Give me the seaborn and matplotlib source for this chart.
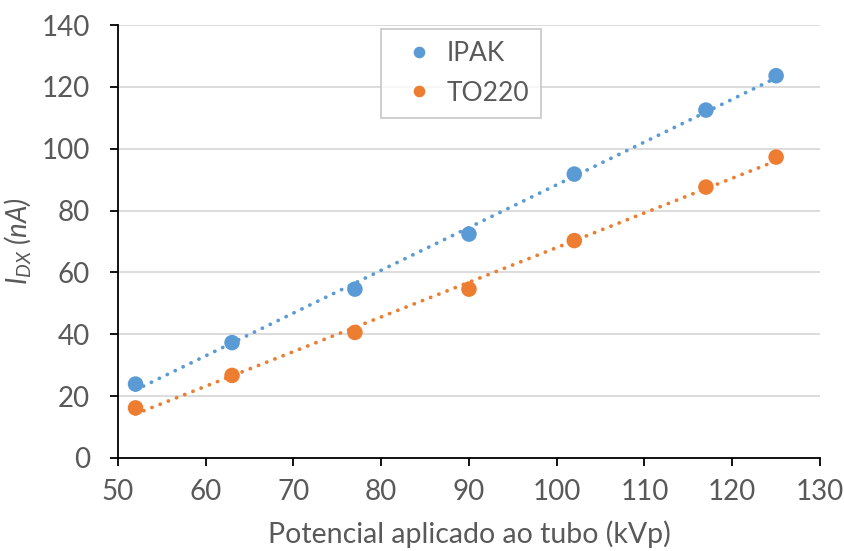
import numpy as np
import pandas as pd
import matplotlib
matplotlib.use("Agg")
import matplotlib.pyplot as plt
import seaborn as sns

kvp = [52, 63, 77, 90, 102, 117, 125]
ipak = [23.9, 37.3, 54.6, 72.4, 91.8, 112.5, 123.6]
to220 = [16.2, 26.7, 40.6, 54.6, 70.3, 87.6, 97.3]
series_names = ["IPAK", "TO220"]
colors = ["#5B9BD5", "#ED7D31"]
xticks = [50, 60, 70, 80, 90, 100, 110, 120, 130]
yticks = [0, 20, 40, 60, 80, 100, 120, 140]

sns.set_theme(style="white")
plt.rcParams["font.family"] = ["Lato", "DejaVu Sans"]
plt.rcParams["mathtext.fontset"] = "custom"
plt.rcParams["mathtext.it"] = "Lato:italic"
plt.rcParams["mathtext.rm"] = "Lato"

df = pd.DataFrame({
    "kVp": kvp * 2,
    "I": ipak + to220,
    "serie": [series_names[0]] * len(kvp) + [series_names[1]] * len(kvp),
})

fig = plt.figure(figsize=(8.45, 5.51), dpi=100)
ax = fig.add_axes([0.1396, 0.1688, 0.8308, 0.7858])

for name, c in zip(series_names, colors):
    sub = df[df["serie"] == name]
    sns.regplot(data=sub, x="kVp", y="I", ax=ax, scatter=False, ci=None,
                color=c, line_kws={"ls": (0, (0.05, 2.3)), "lw": 2.7,
                                   "dash_capstyle": "round", "zorder": 2})
sns.scatterplot(data=df, x="kVp", y="I", hue="serie", palette=colors,
                s=125, edgecolor="none", ax=ax, zorder=3)

ax.set_xlim(50, 130)
ax.set_ylim(0, 140)
ax.set_xticks(xticks)
ax.set_yticks(yticks)
ax.yaxis.grid(True, color="#D9D9D9", lw=1.3)
ax.xaxis.grid(False)
ax.set_axisbelow(True)
for s in ["top", "right"]:
    ax.spines[s].set_visible(False)
for s in ["left", "bottom"]:
    ax.spines[s].set_color("black")
    ax.spines[s].set_linewidth(1.3)
ax.tick_params(axis="both", which="major", direction="out", length=6, width=1.3,
               color="black", labelsize=20, labelcolor="#595959",
               bottom=True, left=True)
ax.tick_params(axis="x", pad=9)
ax.tick_params(axis="y", pad=14)

ax.set_xlabel("Potencial aplicado ao tubo (kVp)", fontsize=20.5, color="#595959", labelpad=11)
ax.set_ylabel(r"$I_{DX}$ (nA)", fontsize=20, color="#595959", style="italic", labelpad=6)

leg = ax.legend(loc="upper left", bbox_to_anchor=(0.374, 0.99), frameon=True,
                fontsize=19, handletextpad=0.05, markerscale=0.75,
                borderpad=0.45, labelspacing=0.55, fancybox=False, title=None,
                borderaxespad=0)
leg.get_frame().set_edgecolor("#BFBFBF")
leg.get_frame().set_linewidth(1.3)
for t in leg.get_texts():
    t.set_color("#595959")

fig.savefig("out.png", dpi=100)
